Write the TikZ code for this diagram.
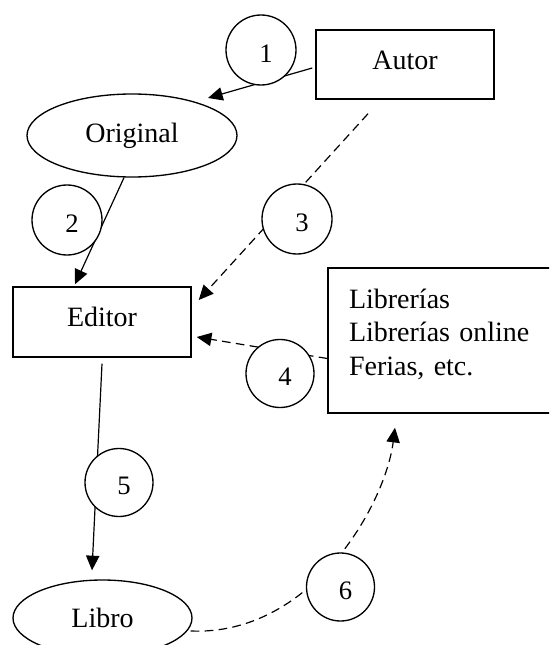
\documentclass[tikz,border=0pt]{standalone}
\usepackage{fontspec}
\setmainfont{Liberation Serif}
\usetikzlibrary{arrows.meta,shapes.geometric,calc}

\begin{document}
\begin{tikzpicture}[x=0.75pt,y=-0.75pt,
  every node/.style={font=\fontsize{21}{25.2}\selectfont},
  box/.style={draw, line width=1.1pt, rectangle, inner sep=0pt,
    text height=14.5pt, text depth=7.5pt},
  oval/.style={draw, line width=1pt, ellipse, inner sep=0pt},
  num/.style={draw, line width=1pt, circle, fill=white, inner sep=0pt,
    minimum size=51pt},
  numtxt/.style={xshift=3.75pt, yshift=-2.6pt, inner sep=0pt,
    font=\fontsize{20}{24}\selectfont},
  arr/.style={line width=0.9pt, -{Triangle[length=11pt,width=10pt]}},
  dsh/.style={dash pattern=on 6.5pt off 4pt}
]
\useasboundingbox (0,0) rectangle (549,645);
\clip (0,0) rectangle (549,645);

% boxes and ovals
\node[box, minimum width=133.5pt, minimum height=51.75pt] (autor) at (405,64.5) {Autor};
\node[oval, minimum width=157.5pt, minimum height=62.25pt] (original) at (132,135.5) {Original};
\node[box, minimum width=133.5pt, minimum height=52.5pt] (editor) at (102,322) {Editor};
\node[draw, line width=1.1pt, rectangle, minimum width=168.75pt, minimum height=108.75pt,
  inner xsep=15.75pt, inner ysep=0pt, text width=137.25pt, align=left] (libs) at (440.5,340.5)
  {Librerías\\Librerías online\\Ferias, etc.\rule[-12.5pt]{0pt}{12.5pt}};
\node[oval, minimum width=134.25pt, minimum height=57pt] (libro) at (102.5,618) {Libro};

% connectors
\draw[arr] ($(autor.west)+(-3,3.5)$) -- ($(original.center)+(76,-37.5)$);
\draw[arr] ($(original.south)+(-8,0)$) -- ($(editor.north)+(-27,-2)$);
\draw[arr,dsh] ($(autor.south)+(-37,14)$) -- ($(editor.east)+(7,-22)$);
\draw[arr,dsh] ($(libs.west)+(0,18)$) -- ($(editor.east)+(5,15)$);
\draw[arr] ($(editor.south)+(0,6)$) -- ($(libro.north)+(-10.5,-9)$);
\draw[arr,dsh] ($(libro.east)+(-2,13)$) .. controls +(120,5) and +(-10,78) .. ($(libs.south)+(-45.5,14)$);

% numbered steps
\node[num, minimum size=52.5pt, label={[numtxt]center:1}] (c1) at (261,50) {};
\node[num, minimum size=52.5pt, label={[numtxt]center:2}] (c2) at (67,220) {};
\node[num, minimum size=52.5pt, label={[numtxt]center:3}] (c3) at (297,219) {};
\node[num, label={[numtxt]center:4}] (c4) at (280,373.5) {};
\node[num, label={[numtxt]center:5}] (c5) at (119,482.5) {};
\node[num, label={[numtxt]center:6}] (c6) at (340.5,587) {};
\end{tikzpicture}
\end{document}
